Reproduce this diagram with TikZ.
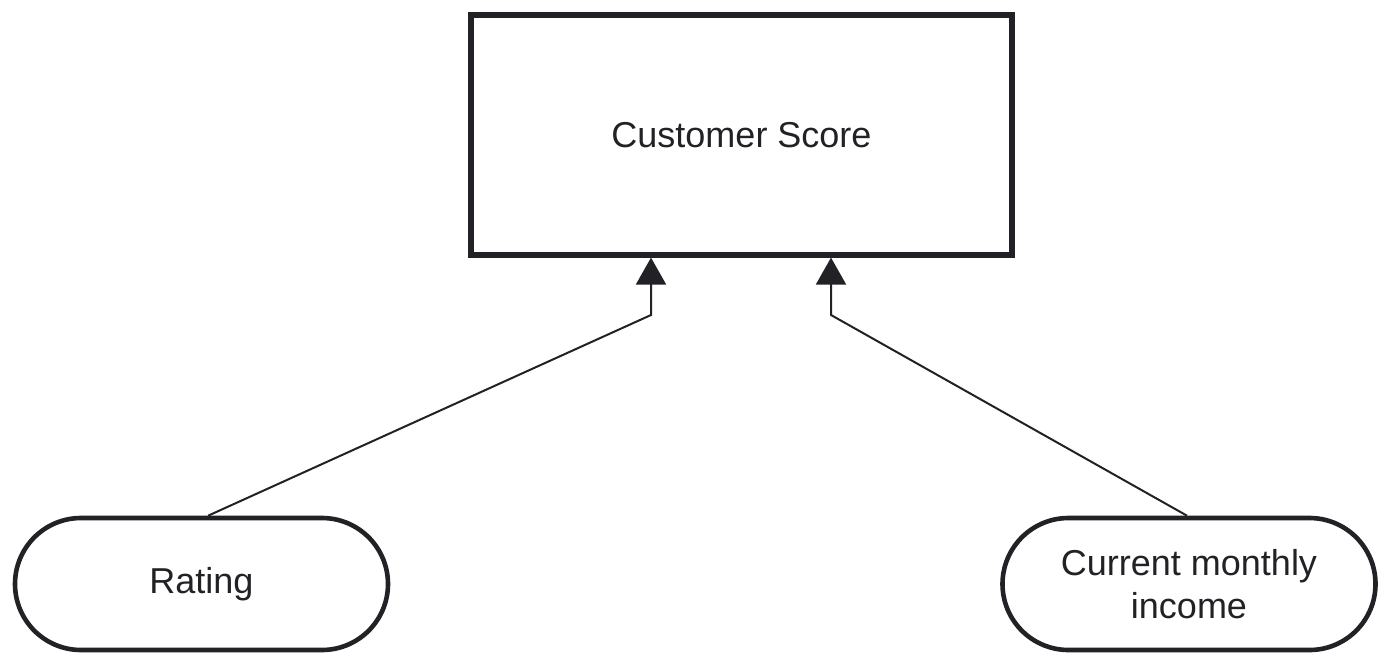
\documentclass[tikz,border=0pt]{standalone}
\usepackage{fontspec}
\setmainfont{Liberation Sans}
\usepackage{xcolor}
\usetikzlibrary{arrows.meta, positioning, calc}
\definecolor{ink}{HTML}{222226}

\tikzset{
  scorebox/.style={draw=ink, line width=2.6pt, minimum width=270.5pt, minimum height=120pt, inner sep=0pt},
  inputpill/.style={draw=ink, line width=2.3pt, rounded corners=33pt, minimum width=186.5pt, minimum height=66pt, inner sep=0pt, align=center},
  feed/.style={draw=ink, line width=1pt, -{Triangle[length=13.5pt, width=15pt]}}
}

\begin{document}
\begin{tikzpicture}[x=0.5pt, y=-0.5pt, font=\fontsize{18}{21.5}\selectfont, text=ink]
      \useasboundingbox (0,0) rectangle (1392,669);

      \node[scorebox] (score) at (741.5,135) {Customer Score};
      \node[inputpill] (rating) at (201.5,584) {Rating};
      \node[inputpill] (income) at (1189,584) {Current monthly\\income};

      \coordinate (bendA) at (651,315);
      \coordinate (bendB) at (831,315);

      \draw[feed] ([xshift=3.3pt]rating.north) -- (bendA) -- (bendA |- score.south);
      \draw[feed] ([xshift=-1pt]income.north) -- (bendB) -- (bendB |- score.south);
    \end{tikzpicture}
\end{document}
